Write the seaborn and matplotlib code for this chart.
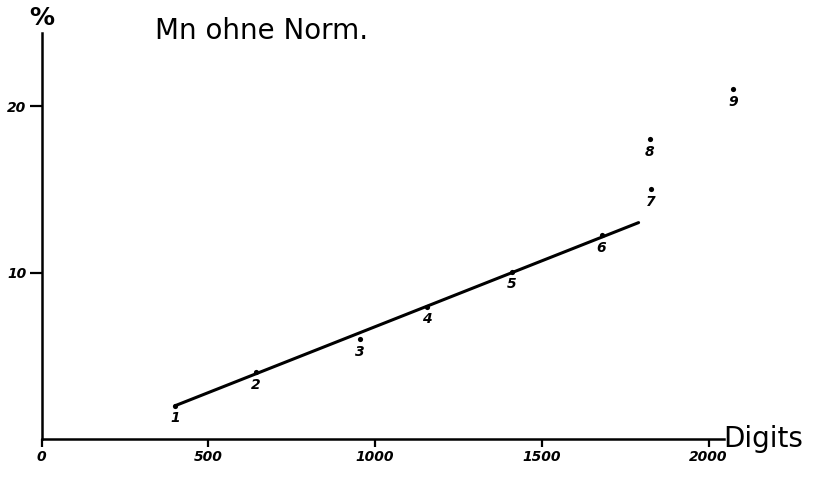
import matplotlib
matplotlib.use("Agg")
import matplotlib.pyplot as plt
import seaborn as sns
import pandas as pd

# data
point_ids = ["1", "2", "3", "4", "5", "6", "7", "8", "9"]
digits = [400, 643, 954, 1154, 1409, 1679, 1826, 1824, 2073]
percent = [2.0, 4.0, 6.0, 7.95, 10.05, 12.25, 15.0, 18.0, 21.0]
fit_x = [400, 1790]
fit_y = [2.0, 13.0]
x_ticks = [0, 500, 1000, 1500, 2000]
y_ticks = [10, 20]
title = "Mn ohne Norm."
x_label = "Digits"
y_label = "%"

sns.set_theme(style="white")
plt.rcParams["font.family"] = ["DejaVu Sans"]
plt.rcParams["text.color"] = "black"

fig = plt.figure(figsize=(8.22, 4.78), dpi=100)
ax = fig.add_axes([0, 0, 1, 1])

df = pd.DataFrame({"digits": digits, "percent": percent, "id": point_ids})
fit = pd.DataFrame({"x": fit_x, "y": fit_y})

sns.lineplot(data=fit, x="x", y="y", ax=ax, color="black", linewidth=2.2)
sns.scatterplot(data=df, x="digits", y="percent", ax=ax, color="black",
                s=14, edgecolor="black", linewidth=0, zorder=5)

for _, r in df.iterrows():
    ax.annotate(r["id"], (r["digits"], r["percent"]), xytext=(0, -9),
                textcoords="offset points", ha="center", va="center",
                fontsize=10, fontstyle="italic", fontweight="bold",
                color="black")

# map pixel geometry: x 0->41.7px, 2000->709px ; y 0->439px, 20->106px
ax.set_xlim(-125, 2340)
ax.set_ylim(-2.34, 26.37)

for s in ["top", "right"]:
    ax.spines[s].set_visible(False)
ax.spines["left"].set_position(("data", 0))
ax.spines["bottom"].set_position(("data", 0))
ax.spines["left"].set_bounds(0, 24.4)
ax.spines["bottom"].set_bounds(0, 2045)
for s in ["left", "bottom"]:
    ax.spines[s].set_color("black")
    ax.spines[s].set_linewidth(1.8)

ax.set_xticks(x_ticks)
ax.set_xticklabels([str(t) for t in x_ticks], fontstyle="italic",
                   fontweight="bold", fontsize=10)
ax.set_yticks(y_ticks)
ax.set_yticklabels([str(t) for t in y_ticks], fontstyle="italic",
                   fontweight="bold", fontsize=10)
ax.tick_params(axis="x", direction="out", length=6, width=1.6, pad=2,
               bottom=True, colors="black")
ax.tick_params(axis="y", direction="out", length=9, width=1.6, pad=2,
               left=True, colors="black")
ax.set_xlabel("")
ax.set_ylabel("")
ax.grid(False)

ax.text(2045, 0, x_label, ha="left", va="center", fontsize=20,
        color="black")
ax.text(0, 25.3, y_label, ha="center", va="center", fontsize=18,
        fontweight="bold", color="black")
fig.text(155 / 822, 1 - 31 / 478, title, ha="left", va="center",
         fontsize=20, color="black")

fig.savefig("out.png", dpi=100)
